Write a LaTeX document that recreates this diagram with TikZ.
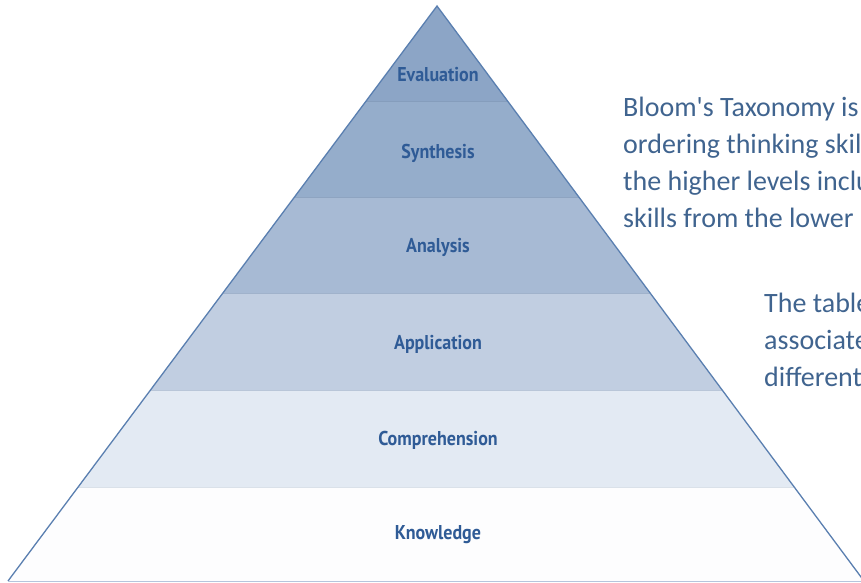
\documentclass[tikz,border=0pt]{standalone}
\usepackage{fontspec}
\setmainfont{Carlito}
\newfontfamily\levelfont{PT Sans}[FakeStretch=0.9]

\definecolor{edgeblue}{HTML}{5A7FB0}
\definecolor{labelblue}{HTML}{2F5B96}
\definecolor{noteblue}{HTML}{40648F}
\definecolor{evalfill}{HTML}{8CA5C6}
\definecolor{synthfill}{HTML}{95ADCB}
\definecolor{analfill}{HTML}{A7BAD4}
\definecolor{applfill}{HTML}{C1CEE1}
\definecolor{compfill}{HTML}{E3EAF3}
\definecolor{knowfill}{HTML}{FDFDFE}

\tikzset{
  level/.style={font=\levelfont\bfseries\fontsize{20}{22}\selectfont, text=labelblue, inner sep=0pt},
  note/.style={font=\fontsize{28}{37}\selectfont, text=noteblue, align=left, anchor=base west, inner sep=0pt},
  bandline/.style={line width=1.2pt}
}

\begin{document}
\begin{tikzpicture}[x=1pt,y=-1pt]
\useasboundingbox (0,0) rectangle (861,582);
\coordinate (top) at (437,6);
\coordinate (left) at (8,581);
\coordinate (right) at (864,581);
% the six bands
\begin{scope}
\clip (top) -- (left) -- (right) -- cycle;
\fill[evalfill] (0,0) rectangle (861,101);
\fill[synthfill] (0,101) rectangle (861,197);
\fill[analfill] (0,197) rectangle (861,293);
\fill[applfill] (0,293) rectangle (861,390);
\fill[compfill] (0,390) rectangle (861,487);
\fill[knowfill] (0,487) rectangle (861,581);
\draw[bandline, evalfill!95!black] (0,101.5) -- (861,101.5);
\draw[bandline, synthfill!95!black] (0,197.5) -- (861,197.5);
\draw[bandline, analfill!96!black] (0,293.5) -- (861,293.5);
\draw[bandline, applfill!96!black] (0,390.5) -- (861,390.5);
\draw[bandline, compfill!96!black] (0,487.5) -- (861,487.5);
\end{scope}
\draw[line width=1.3pt, edgeblue, line join=miter] (left) -- (top) -- (right);
\draw[line width=1pt, edgeblue!45] (left) -- (right);
% level names
\node[level] (eval) at (438,75) {Evaluation};
\node[level] (synth) at (438,153) {Synthesis};
\node[level] (anal) at (438,247) {Analysis};
\node[level] (appl) at (438,344) {Application};
\node[level] (comp) at (438,440) {Comprehension};
\node[level] (know) at (438,535) {Knowledge};
% notes at the right (base = last line)
\node[note] (intro) at (623,227) {Bloom\textquotesingle s Taxonomy is\\ordering thinking skills\\the higher levels include\\skills from the lower};
\node[note] (table) at (764,386) {The table\\associated\\different};
\end{tikzpicture}
\end{document}
